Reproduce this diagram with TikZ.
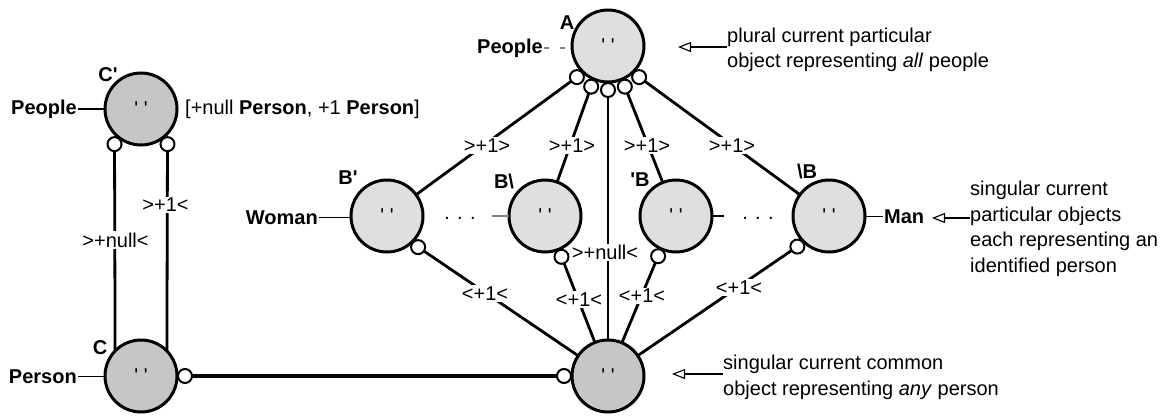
\documentclass[tikz,border=0pt]{standalone}
\usepackage{fontspec}
\setmainfont{Liberation Sans}[Ligatures=TeXOff]
\usetikzlibrary{arrows.meta,calc}
\definecolor{lightfill}{HTML}{DFDFDF}
\definecolor{darkfill}{HTML}{C6C6C6}

\begin{document}
\begin{tikzpicture}[x=1pt,y=1pt,
  font=\fontsize{20}{25.5}\selectfont,
  obj/.style={circle, draw, line width=3pt, minimum size=72pt, inner sep=0pt, outer sep=0pt},
  pobj/.style={obj, fill=lightfill},
  cobj/.style={obj, fill=darkfill},
  port/.style={circle, draw, line width=2pt, fill=white, minimum size=14pt, inner sep=0pt, outer sep=0pt},
  link/.style={line width=2.8pt},
  card/.style={fill=white, inner sep=1.5pt},
  tag/.style={font=\fontsize{20}{25.5}\selectfont\bfseries, inner sep=1pt},
  lead/.style={line width=1.1pt},
  note/.style={-{Triangle[open,length=13pt,width=10pt]}, line width=1.1pt},
  textblock/.style={align=left, inner sep=0pt, anchor=west}
]
\useasboundingbox (0,0) rectangle (1166,416);

% ---- object circles ----
\node[cobj] (Cp) at (141,307) {' '};
\node[cobj] (Cl) at (141,40) {' '};
\node[pobj] (A)  at (608,370) {' '};
\node[pobj] (B1) at (387,200) {' '};
\node[pobj] (B2) at (545,200) {' '};
\node[pobj] (B3) at (676,200) {' '};
\node[pobj] (B4) at (829,200) {' '};
\node[cobj] (Cm) at (608,40) {' '};

% ---- ports ----
\node[port] (a1) at ($(A)+(225:44)$) {};
\node[port] (a2) at ($(A)+(247.5:44)$) {};
\node[port] (a3) at ($(A)+(270:44)$) {};
\node[port] (a4) at ($(A)+(292.5:44)$) {};
\node[port] (a5) at ($(A)+(315:44)$) {};
\node[port] (b1) at ($(B1)+(-45:44)$) {};
\node[port] (b2) at ($(B2)+(-68:44)$) {};
\node[port] (b3) at ($(B3)+(-114:44)$) {};
\node[port] (b4) at ($(B4)+(-136:44)$) {};
\node[port] (c1) at ($(Cp)+(233:44)$) {};
\node[port] (c2) at ($(Cp)+(307:44)$) {};
\node[port] (cl) at ($(Cl)+(0:44)$) {};
\node[port] (cm) at ($(Cm)+(180:44)$) {};

% ---- connectors ----
\draw[link] (a1) -- (B1);
\draw[link] (a2) -- (B2);
\draw[link] (a3) -- (Cm);
\draw[link] (a4) -- (B3);
\draw[link] (a5) -- (B4);
\draw[link] (b1) -- (Cm);
\draw[link] (b2) -- (Cm);
\draw[link] (b3) -- (Cm);
\draw[link] (b4) -- (Cm);
\draw[link] (c1) -- (Cl.136);
\draw[link] (c2) -- (Cl.44);
\draw[line width=3.4pt] (cl) -- (cm);

% ---- cardinality labels ----
\node[card] (k1) at (487,270.5) {>+1>};
\node[card] (k2) at (572,270.5) {>+1>};
\node[card] (k3) at (647,270.5) {>+1>};
\node[card] (k4) at (732,270.5) {>+1>};
\node[card] (k5) at (605,163.5) {>+null<};
\node[card] (k6) at (485,122.5) {<+1<};
\node[card] (k7) at (579,116.5) {<+1<};
\node[card] (k8) at (642,120) {<+1<};
\node[card] (k9) at (739,128.5) {<+1<};
\node[card] (k10) at (165.5,211) {>+1<};
\node[card] (k11) at (115.5,176) {>+null<};

% ---- object names ----
\node[tag] (nCp) at (108,341) {C'};
\node[tag, anchor=east] (tCp) at (78,307) {People};
\draw[lead] (tCp.east) -- (tCp.east -| Cp.west);
\node[anchor=west, inner sep=1pt] (sig) at (184,307) {[+null \textbf{Person}, +1 \textbf{Person}]};

\node[tag] (nCl) at (100,68) {C};
\node[tag, anchor=east] (tCl) at (78,39.5) {Person};
\draw[lead] (tCl.east) -- (tCl.east -| Cl.west);

\node[tag] (nA) at (567,393.5) {A};
\node[tag, anchor=east] (tA) at (544,368) {People};
\draw[gray, line width=1.5pt, dash pattern=on 5pt off 11pt] (tA.east) -- (tA.east -| A.west);

\node[tag] (nB1) at (348,238) {B'};
\node[tag, anchor=east] (tB1) at (319,198.5) {Woman};
\draw[lead] (tB1.east) -- (tB1.east -| B1.west);

\node[tag] (nB2) at (504,235) {B\textbackslash};
\coordinate (s2) at (492,200);
\draw[lead, gray] (s2) -- (B2.west);

\node[tag] (nB3) at (640,236) {'B};
\coordinate (s3) at (724,200);
\draw[lead] (B3.east) -- (s3);

\node[tag] (nB4) at (807,244.5) {\textbackslash B};
\node[tag, anchor=west] (tB4) at (883,199.5) {Man};
\draw[lead] (B4.east) -- (B4.east |- tB4.west) -- (tB4.west);

\node[anchor=base, inner sep=0pt] (d1) at (460,197) {. . .};
\node[anchor=base, inner sep=0pt] (d2) at (758,197) {. . .};

% ---- notes ----
\node[textblock] (noteA) at (727,366) {plural current particular\\object representing \textit{all} people};
\coordinate (tipA) at (678,369);
\draw[note] (tipA -| noteA.west) -- (tipA);

\node[textblock] (noteB) at (970,187) {singular current\\particular objects\\each representing an\\identified person};
\coordinate (tipB) at (932,198);
\draw[note] (tipB -| noteB.west) -- (tipB);

\node[textblock] (noteC) at (723,38.7) {singular current common\\object representing \textit{any} person};
\coordinate (tipC) at (672,42);
\draw[note] (tipC -| noteC.west) -- (tipC);
\end{tikzpicture}
\end{document}
